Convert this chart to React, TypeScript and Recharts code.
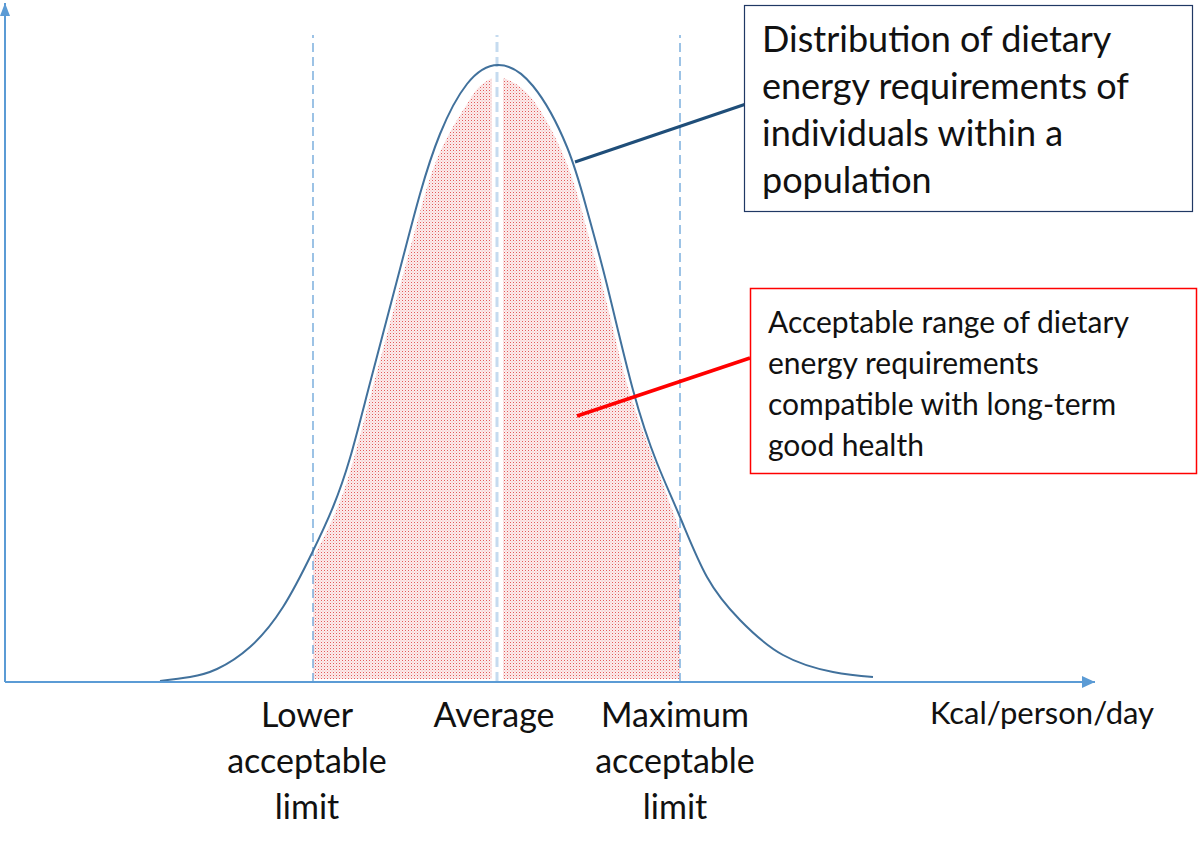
import { ComposedChart, Line, Area, XAxis, YAxis, ReferenceLine, ReferenceDot } from "recharts"

// curve: x position along the axis, height above baseline
const curveX = [160, 190, 217, 250, 283, 312, 333, 350, 370, 400, 420, 440, 467, 498, 533, 567, 587, 607, 633, 657, 680, 707, 740, 783, 833, 873]
const curveH = [1, 5, 13, 35, 75, 129, 175, 224, 299, 413, 488, 548, 598, 617, 596, 535, 472, 397, 292, 219, 165, 105, 62, 27, 10, 5]

// shaded range (two halves, split at the average)
const shadeLeftX = [313, 333, 350, 370, 400, 420, 440, 467, 480, 492]
const shadeLeftH = [124, 164, 210, 284, 396, 470, 530, 578, 596, 604]
const shadeRightX = [503, 533, 567, 587, 607, 627, 650, 673, 680]
const shadeRightH = [604, 582, 518, 452, 378, 298, 232, 170, 150]
const shadeFloor = 3

const tickValues = [313, 497, 680]
const tickLabels = [["Lower", "acceptable", "limit"], ["Average"], ["Maximum", "acceptable", "limit"]]
const tickShift = [-6, -3, -5]
const unitLabel = "Kcal/person/day"

const box1Lines = ["Distribution of dietary", "energy requirements of", "individuals within a", "population"]
const box2Lines = ["Acceptable range of dietary", "energy requirements", "compatible with long-term", "good health"]

const curve = curveX.map((x, i) => ({ x, h: curveH[i] }))
const shadeLeft = shadeLeftX.map((x, i) => ({ x, r: [shadeFloor, shadeLeftH[i]] }))
const shadeRight = shadeRightX.map((x, i) => ({ x, r: [shadeFloor, shadeRightH[i]] }))

const font = "Lato, 'Open Sans', sans-serif"
const axisBlue = "#5b9bd5"

function Tick(props: any) {
  const { x, y, payload } = props
  const i = tickValues.indexOf(payload.value)
  const lines = tickLabels[i] || []
  return (
    <text x={x + (tickShift[i] || 0)} y={y} textAnchor="middle" fontFamily={font} fontSize={34} fill="#111">
      {lines.map((l, k) => (
        <tspan key={k} x={x + (tickShift[i] || 0)} y={y + 45 + k * 46}>{l}</tspan>
      ))}
    </text>
  )
}

export default function App() {
  return (
    <div style={{ position: "absolute", left: 0, top: 0, width: 1200, height: 847, background: "#fff" }}>
      <svg width={1200} height={847} style={{ position: "absolute", left: 0, top: 0 }}>
        <defs>
          <pattern id="dots" width="3" height="3" patternUnits="userSpaceOnUse">
            <rect width="3" height="3" fill="#fcecec" />
            <rect width="1" height="1" fill="#e25a5a" />
            <rect x="1.5" y="1.5" width="1" height="1" fill="#f2b4b4" />
          </pattern>
        </defs>
      </svg>
      <ComposedChart
        width={1200}
        height={847}
        margin={{ top: 3, right: 105, left: 5, bottom: 25 }}
        style={{ position: "absolute", left: 0, top: 0 }}
      >
        <XAxis
          type="number"
          dataKey="x"
          domain={[5, 1095]}
          ticks={tickValues}
          interval={0}
          tick={<Tick />}
          tickLine={false}
          tickSize={0}
          tickMargin={0}
          height={140}
          axisLine={{ stroke: axisBlue, strokeWidth: 2 }}
          allowDataOverflow
          label={{
            content: ({ viewBox }: any) => (
              <text x={viewBox.x + viewBox.width - 53} y={viewBox.y + 42} textAnchor="middle" fontFamily={font} fontSize={31} fill="#111">
                {unitLabel}
              </text>
            ),
          }}
        />
        <YAxis hide type="number" domain={[0, 679]} allowDataOverflow />
        <Area data={shadeLeft} dataKey="r" type="natural" stroke="none" fill="url(#dots)" fillOpacity={1} isAnimationActive={false} />
        <Area data={shadeRight} dataKey="r" type="natural" stroke="none" fill="url(#dots)" fillOpacity={1} isAnimationActive={false} />
        <ReferenceLine segment={[{ x: 313, y: 0 }, { x: 313, y: 647 }]} stroke={axisBlue} strokeWidth={1.2} strokeDasharray="9 5" />
        <ReferenceLine segment={[{ x: 680, y: 0 }, { x: 680, y: 647 }]} stroke={axisBlue} strokeWidth={1.2} strokeDasharray="9 5" />
        <ReferenceLine segment={[{ x: 497, y: 0 }, { x: 497, y: 647 }]} stroke="#c5dbef" strokeWidth={3} strokeDasharray="10 5" />
        <Line data={curve} dataKey="h" type="natural" stroke="#41719c" strokeWidth={2} dot={false} isAnimationActive={false} />
        <ReferenceLine x={5} stroke={axisBlue} strokeWidth={2} />
        <ReferenceDot
          x={5}
          y={679}
          shape={(p: any) => <polygon points={`${p.cx},${p.cy} ${p.cx - 5},${p.cy + 13} ${p.cx + 5},${p.cy + 13}`} fill={axisBlue} />}
        />
        <ReferenceDot
          x={1095}
          y={0}
          shape={(p: any) => <polygon points={`${p.cx},${p.cy} ${p.cx - 13},${p.cy - 6} ${p.cx - 13},${p.cy + 6}`} fill={axisBlue} />}
        />
        <ReferenceLine segment={[{ x: 575, y: 520 }, { x: 746, y: 578 }]} stroke="#1f4e79" strokeWidth={3} ifOverflow="visible" />
        <ReferenceLine segment={[{ x: 577, y: 266 }, { x: 750, y: 324 }]} stroke="#ff0000" strokeWidth={3.5} ifOverflow="visible" />
      </ComposedChart>
      <svg width={1200} height={847} style={{ position: "absolute", left: 0, top: 0, pointerEvents: "none" }}>
        <rect x={744.5} y={5.5} width={448} height={206} fill="#fff" stroke="#203864" strokeWidth={1.2} />
        <text fontFamily={font} fontSize={36} fill="#111">
          {box1Lines.map((l, k) => (
            <tspan key={k} x={762} y={52 + k * 47}>{l}</tspan>
          ))}
        </text>
        <rect x={750.5} y={288.5} width={446} height={185} fill="#fff" stroke="#ff0000" strokeWidth={1.5} />
        <text fontFamily={font} fontSize={30} fill="#111">
          {box2Lines.map((l, k) => (
            <tspan key={k} x={768} y={333 + k * 41}>{l}</tspan>
          ))}
        </text>
      </svg>
    </div>
  )
}
